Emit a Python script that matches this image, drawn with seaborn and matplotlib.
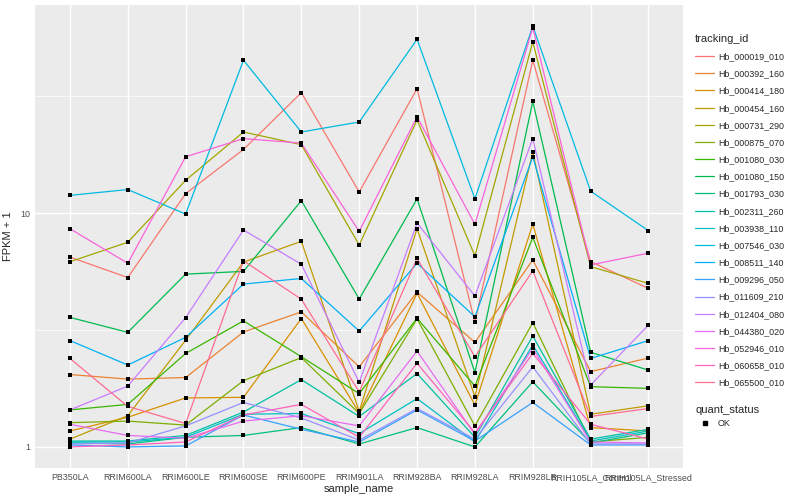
import numpy as np
import pandas as pd
import matplotlib
matplotlib.use("Agg")
import matplotlib.pyplot as plt
from matplotlib.lines import Line2D
import seaborn as sns

samples = ["PB350LA", "RRIM600LA", "RRIM600LE", "RRIM600SE", "RRIM600PE",
           "RRIM901LA", "RRIM928BA", "RRIM928LA", "RRIM928LB",
           "RRIH105LA_Control", "RRIH105LA_Stressed"]

tracking_ids = ["Hb_000019_010", "Hb_000392_160", "Hb_000414_180", "Hb_000454_160",
                "Hb_000731_290", "Hb_000875_070", "Hb_001080_030", "Hb_001080_150",
                "Hb_001793_030", "Hb_002311_260", "Hb_003938_110", "Hb_007546_030",
                "Hb_008511_140", "Hb_009296_050", "Hb_011609_210", "Hb_012404_080",
                "Hb_044380_020", "Hb_052946_010", "Hb_060658_010", "Hb_065500_010"]

# FPKM + 1, one list per gene, in sample order
hb_000019_010 = [6.48, 5.3, 12.1, 18.7, 32.7, 12.3, 34.0, 3.41, 45.0, 6.2, 4.76]
hb_000392_160 = [2.04, 1.95, 1.98, 3.1, 3.78, 2.2, 4.59, 2.8, 6.3, 2.1, 2.4]
hb_000414_180 = [1.17, 1.34, 1.62, 1.63, 3.54, 1.4, 4.54, 1.51, 8.97, 1.21, 1.17]
hb_000454_160 = [1.08, 1.36, 2.86, 6.17, 7.57, 1.42, 8.57, 1.64, 18.2, 1.38, 1.5]
hb_000731_290 = [6.19, 7.5, 13.8, 22.2, 19.6, 7.3, 25.0, 6.56, 53.9, 5.9, 5.0]
hb_000875_070 = [1.27, 1.29, 1.24, 1.92, 2.41, 1.39, 3.53, 1.23, 3.4, 1.05, 1.1]
hb_001080_030 = [1.44, 1.52, 2.51, 3.46, 2.43, 1.69, 3.55, 1.82, 7.87, 1.81, 1.78]
hb_001080_150 = [3.58, 3.09, 5.48, 5.63, 11.3, 4.29, 11.5, 2.08, 30.0, 2.54, 2.13]
hb_001793_030 = [1.04, 1.03, 1.1, 1.12, 1.21, 1.03, 1.21, 1.0, 1.9, 1.04, 1.15]
hb_002311_260 = [1.06, 1.06, 1.12, 1.41, 1.94, 1.35, 2.06, 1.1, 2.98, 1.08, 1.19]
hb_003938_110 = [1.05, 1.05, 1.1, 1.38, 1.39, 1.14, 1.61, 1.05, 2.73, 1.06, 1.17]
hb_007546_030 = [11.9, 12.6, 9.9, 45.0, 22.2, 24.5, 55.3, 11.5, 63.0, 12.4, 8.4]
hb_008511_140 = [2.85, 2.24, 2.94, 4.97, 5.25, 3.13, 6.1, 3.6, 17.4, 2.39, 2.85]
hb_009296_050 = [1.02, 1.0, 1.01, 1.37, 1.19, 1.05, 1.44, 1.06, 1.55, 1.02, 1.02]
hb_011609_210 = [1.03, 1.04, 1.23, 1.55, 1.33, 1.07, 1.46, 1.08, 2.2, 1.03, 1.03]
hb_012404_080 = [1.44, 1.82, 3.57, 8.46, 6.04, 1.89, 9.06, 4.42, 20.8, 1.84, 3.32]
hb_044380_020 = [1.25, 1.12, 1.09, 1.29, 1.36, 1.23, 2.57, 1.13, 2.64, 1.05, 1.04]
hb_052946_010 = [8.57, 6.1, 17.4, 20.8, 19.9, 8.35, 25.8, 8.95, 62.0, 6.0, 6.74]
hb_060658_010 = [1.0, 1.02, 1.05, 1.37, 1.52, 1.1, 2.28, 1.15, 2.51, 1.25, 1.08]
hb_065500_010 = [2.39, 1.49, 1.26, 6.25, 4.28, 1.72, 6.4, 2.43, 5.66, 1.35, 1.46]

series = [hb_000019_010, hb_000392_160, hb_000414_180, hb_000454_160, hb_000731_290,
          hb_000875_070, hb_001080_030, hb_001080_150, hb_001793_030, hb_002311_260,
          hb_003938_110, hb_007546_030, hb_008511_140, hb_009296_050, hb_011609_210,
          hb_012404_080, hb_044380_020, hb_052946_010, hb_060658_010, hb_065500_010]

# ggplot2 default hue palette for 20 levels
palette = ["#F8766D", "#EA8331", "#D89000", "#C09B00", "#A3A500", "#7CAE00", "#39B600",
           "#00BB4E", "#00BF7D", "#00C1A3", "#00BFC4", "#00BAE0", "#00B0F6", "#35A2FF",
           "#9590FF", "#C77CFF", "#E76BF3", "#FA62DB", "#FF62BC", "#FF6C91"]

rows = []
for tid, vals in zip(tracking_ids, series):
    for s, v in zip(samples, vals):
        rows.append({"tracking_id": tid, "sample_name": s, "fpkm1": v, "quant_status": "OK"})
df = pd.DataFrame(rows)

sns.set_theme(style="darkgrid", rc={"axes.facecolor": "#EBEBEB", "grid.color": "white"})
plt.rcParams["font.family"] = ["Liberation Sans", "DejaVu Sans"]

fig = plt.figure(figsize=(8, 5), dpi=100)
ax = fig.add_axes([0.044, 0.064, 0.81, 0.926])

sns.lineplot(data=df, x="sample_name", y="fpkm1", hue="tracking_id",
             hue_order=tracking_ids, palette=palette, sort=False,
             estimator=None, linewidth=0.9, legend=False, ax=ax)
sns.scatterplot(data=df, x="sample_name", y="fpkm1", color="black", marker="s",
                s=7, linewidth=0, legend=False, ax=ax, zorder=5)

ax.set_yscale("log")
lo, hi = np.log10(df["fpkm1"].min()), np.log10(df["fpkm1"].max())
pad = 0.05 * (hi - lo)
ax.set_ylim(10 ** (lo - pad), 10 ** (hi + pad))
ax.set_xlim(-0.6, len(samples) - 0.4)

ax.set_yticks([1, 10])
ax.set_yticklabels(["1", "10"])
ax.set_yticks([10 ** 0.5, 10 ** 1.5], minor=True)
ax.yaxis.set_minor_formatter(matplotlib.ticker.NullFormatter())
ax.grid(which="major", color="white", linewidth=1.0)
ax.grid(which="minor", axis="y", color="white", linewidth=0.5)
ax.tick_params(axis="both", which="major", length=2.2, width=0.6, color="#333333",
               labelsize=6.4, labelcolor="#4D4D4D", pad=1.5)
ax.tick_params(axis="y", which="minor", length=0)
for sp in ax.spines.values():
    sp.set_visible(False)

ax.set_xlabel("sample_name", fontsize=8, labelpad=1)
ax.set_ylabel("FPKM + 1", fontsize=8, labelpad=5)

# legend keys on grey95 boxes, like ggplot
handles = [Line2D([], [], color=c, linewidth=0.9) for c in palette]
leg1 = fig.legend(handles, tracking_ids, title="tracking_id", loc="upper left",
                  bbox_to_anchor=(0.869, 0.932), frameon=False, fontsize=6.4,
                  title_fontsize=8, handlelength=2.1, handletextpad=0.45,
                  labelspacing=0.92, alignment="left", borderaxespad=0, borderpad=0)
ok = [Line2D([], [], color="black", marker="s", markersize=2.6, linestyle="none")]
leg2 = fig.legend(ok, ["OK"], title="quant_status", loc="upper left",
                  bbox_to_anchor=(0.869, 0.19), frameon=False, fontsize=6.4,
                  title_fontsize=8, handlelength=2.1, handletextpad=0.45,
                  alignment="left", borderaxespad=0, borderpad=0)

fig.savefig("out.png", dpi=100)
